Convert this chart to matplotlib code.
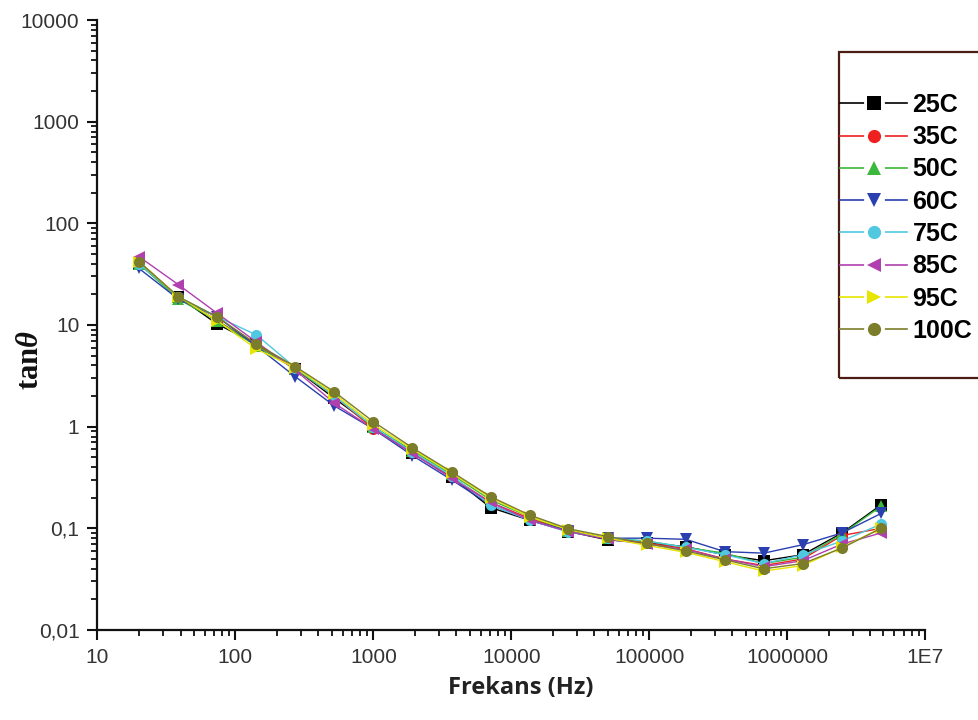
import matplotlib
matplotlib.use("Agg")
import matplotlib.pyplot as plt
from matplotlib.ticker import FixedLocator, FixedFormatter, LogLocator, NullFormatter
from matplotlib.patches import Rectangle
from matplotlib.lines import Line2D

# ---- data ----
freq = [20, 38.5, 74, 142, 272, 522, 1000, 1920, 3690, 7080, 13600, 26000,
        50000, 96000, 184000, 353000, 677000, 1300000, 2500000, 4800000]

t25 = [40, 19, 10.2, 6.5, 3.7, 1.9, 1.0, 0.55, 0.32, 0.16, 0.12, 0.093,
       0.077, 0.072, 0.066, 0.055, 0.048, 0.055, 0.09, 0.17]
t35 = [42, 19, 11, 6.4, 3.7, 2.0, 0.95, 0.55, 0.32, 0.18, 0.125, 0.095,
       0.08, 0.072, 0.063, 0.05, 0.043, 0.05, 0.085, 0.10]
t50 = [40, 18, 11, 6.2, 3.7, 2.0, 1.0, 0.58, 0.34, 0.19, 0.13, 0.095,
       0.08, 0.075, 0.065, 0.057, 0.045, 0.052, 0.088, 0.165]
t60 = [36, 18, 12, 6.2, 3.1, 1.6, 0.95, 0.52, 0.30, 0.17, 0.12, 0.095,
       0.08, 0.08, 0.078, 0.059, 0.057, 0.069, 0.09, 0.14]
t75 = [40, 19, 12, 8.0, 3.8, 2.0, 1.0, 0.56, 0.33, 0.17, 0.12, 0.092,
       0.08, 0.075, 0.065, 0.055, 0.045, 0.055, 0.075, 0.11]
t85 = [47, 25, 13, 6.8, 3.6, 1.7, 0.95, 0.55, 0.31, 0.18, 0.12, 0.093,
       0.078, 0.07, 0.062, 0.05, 0.042, 0.048, 0.07, 0.09]
t95 = [42, 19, 11, 5.8, 3.8, 2.1, 1.05, 0.6, 0.35, 0.2, 0.13, 0.097,
       0.08, 0.068, 0.058, 0.047, 0.038, 0.043, 0.065, 0.10]
t100 = [42, 19, 12, 6.5, 3.9, 2.2, 1.12, 0.62, 0.36, 0.205, 0.135, 0.099,
        0.083, 0.071, 0.06, 0.049, 0.04, 0.045, 0.064, 0.10]

labels = ["25C", "35C", "50C", "60C", "75C", "85C", "95C", "100C"]
series = [t25, t35, t50, t60, t75, t85, t95, t100]

y_ticks = [0.01, 0.1, 1, 10, 100, 1000, 10000]
y_tick_labels = ["0,01", "0,1", "1", "10", "100", "1000", "10000"]
x_ticks = [10, 100, 1000, 10000, 100000, 1000000, 10000000]
x_tick_labels = ["10", "100", "1000", "10000", "100000", "1000000", "1E7"]

# ---- styles ----
colors = ["#000000", "#ee2020", "#3cb83c", "#2a3fb0", "#4fc8e0", "#b040b0", "#e6e600", "#7b7d2a"]
markers = ["s", "o", "^", "v", "o", "<", ">", "o"]

plt.rcParams["mathtext.fontset"] = "custom"
plt.rcParams["mathtext.bf"] = "Liberation Serif:bold"
plt.rcParams["mathtext.it"] = "Liberation Serif:italic:bold"
plt.rcParams["mathtext.rm"] = "Liberation Serif:bold"

W, H = 979, 720
fig = plt.figure(figsize=(W / 100, H / 100), dpi=100)
ax = fig.add_axes([97.5 / W, 1 - 630 / H, (925 - 97.5) / W, (630 - 20) / H])

handles = []
for lab, vals, c, m in zip(labels, series, colors, markers):
    ax.plot(freq, vals, color=c, marker=m, markersize=8, linewidth=1.0,
            markeredgewidth=0, label=lab)
    line_h = Line2D([], [], color=c, linewidth=1.2)
    gap_h = Line2D([], [], linestyle="none", marker="o", markersize=15,
                   markerfacecolor="white", markeredgewidth=0)
    mark_h = Line2D([], [], linestyle="none", marker=m, markersize=9.5,
                    color=c, markeredgewidth=0)
    handles.append((line_h, gap_h, mark_h))

ax.set_xscale("log")
ax.set_yscale("log")
ax.set_xlim(10, 1e7)
ax.set_ylim(0.01, 10000)

for s in ["top", "right"]:
    ax.spines[s].set_visible(False)
for s in ["left", "bottom"]:
    ax.spines[s].set_linewidth(1.6)
    ax.spines[s].set_color("#111111")

ax.xaxis.set_major_locator(FixedLocator(x_ticks))
ax.xaxis.set_major_formatter(FixedFormatter(x_tick_labels))
ax.yaxis.set_major_locator(FixedLocator(y_ticks))
ax.yaxis.set_major_formatter(FixedFormatter(y_tick_labels))
ax.xaxis.set_minor_locator(LogLocator(base=10, subs=range(2, 10), numticks=20))
ax.yaxis.set_minor_locator(LogLocator(base=10, subs=range(2, 10), numticks=20))
ax.xaxis.set_minor_formatter(NullFormatter())
ax.yaxis.set_minor_formatter(NullFormatter())

ax.tick_params(which="major", direction="out", length=7, width=1.5, color="#111111",
               labelsize=15, labelcolor="#333333", pad=6)
ax.tick_params(which="minor", direction="out", length=4, width=1.3, color="#111111")
for lbl in ax.get_xticklabels() + ax.get_yticklabels():
    lbl.set_family("Liberation Sans")

fig.text(521 / W, 1 - 688 / H, "Frekans (Hz)", ha="center", va="center",
         fontsize=17, fontweight="bold", family="Open Sans", color="#222222")
fig.text(30 / W, 1 - 360 / H, r"$\mathbf{tan}\mathit{\theta}$", ha="center", va="center",
         rotation=90, fontsize=22, color="#111111")

# legend frame (extends past right edge as in the reference)
fig.patches.append(Rectangle((839 / W, 1 - 378 / H), (1000 - 839) / W, (378 - 52) / H,
                             transform=fig.transFigure, fill=False,
                             edgecolor="#4a1c14", linewidth=1.6))
leg = fig.legend(handles=handles, labels=labels, loc="upper left",
                 bbox_to_anchor=(840 / W, 1 - 93 / H),
                 frameon=False, prop={"family": "Liberation Sans", "weight": "bold", "size": 18},
                 handlelength=2.7, handletextpad=0.2, labelspacing=0.33, borderpad=0,
                 borderaxespad=0, numpoints=1)

fig.savefig("out.png", dpi=100)
